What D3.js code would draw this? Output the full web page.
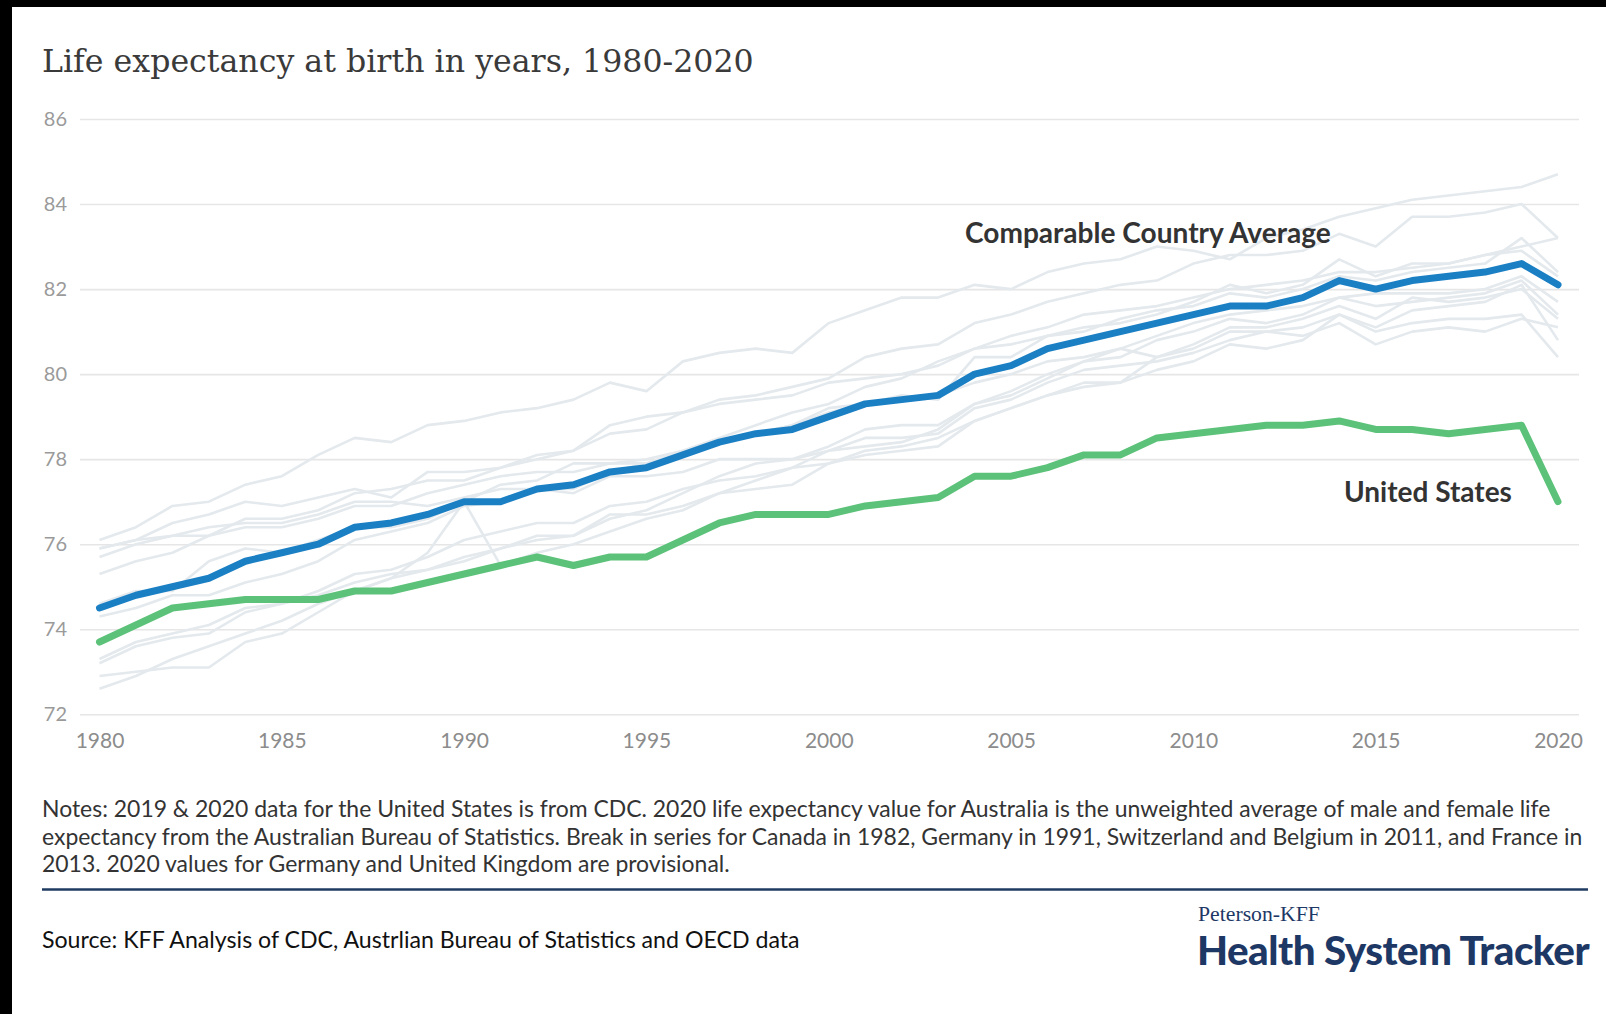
<!DOCTYPE html>
<meta charset="utf-8">
<style>
  body { margin: 0; background: #fff; }
  text { font-family: Lato, "Open Sans", sans-serif; }
</style>

<!-- Load d3.js -->
<script src="https://d3js.org/d3.v7.min.js" charset="utf-8"></script>

<div id="viz"></div>

<script>
// years on the x axis
var years = [1980, 1981, 1982, 1983, 1984, 1985, 1986, 1987, 1988, 1989,
             1990, 1991, 1992, 1993, 1994, 1995, 1996, 1997, 1998, 1999,
             2000, 2001, 2002, 2003, 2004, 2005, 2006, 2007, 2008, 2009,
             2010, 2011, 2012, 2013, 2014, 2015, 2016, 2017, 2018, 2019, 2020];

// highlighted series
var comparableAvg = [74.5, 74.8, 75.0, 75.2, 75.6, 75.8, 76.0, 76.4, 76.5, 76.7,
                     77.0, 77.0, 77.3, 77.4, 77.7, 77.8, 78.1, 78.4, 78.6, 78.7,
                     79.0, 79.3, 79.4, 79.5, 80.0, 80.2, 80.6, 80.8, 81.0, 81.2,
                     81.4, 81.6, 81.6, 81.8, 82.2, 82.0, 82.2, 82.3, 82.4, 82.6, 82.1];
var unitedStates = [73.7, 74.1, 74.5, 74.6, 74.7, 74.7, 74.7, 74.9, 74.9, 75.1,
                    75.3, 75.5, 75.7, 75.5, 75.7, 75.7, 76.1, 76.5, 76.7, 76.7,
                    76.7, 76.9, 77.0, 77.1, 77.6, 77.6, 77.8, 78.1, 78.1, 78.5,
                    78.6, 78.7, 78.8, 78.8, 78.9, 78.7, 78.7, 78.6, 78.7, 78.8, 77.0];

// comparable countries (light grey background lines)
var japan = [76.1, 76.4, 76.9, 77.0, 77.4, 77.6, 78.1, 78.5, 78.4, 78.8,
             78.9, 79.1, 79.2, 79.4, 79.8, 79.6, 80.3, 80.5, 80.6, 80.5,
             81.2, 81.5, 81.8, 81.8, 82.1, 82.0, 82.4, 82.6, 82.7, 83.0,
             82.9, 82.7, 83.2, 83.4, 83.7, 83.9, 84.1, 84.2, 84.3, 84.4, 84.7];
var switzerland = [75.7, 76.0, 76.2, 76.2, 76.6, 76.6, 76.8, 77.2, 77.3, 77.5,
                   77.5, 77.8, 78.0, 78.2, 78.6, 78.7, 79.1, 79.4, 79.5, 79.7,
                   79.9, 80.4, 80.6, 80.7, 81.2, 81.4, 81.7, 81.9, 82.1, 82.2,
                   82.6, 82.8, 82.8, 82.9, 83.3, 83.0, 83.7, 83.7, 83.8, 84.0, 83.2];
var sweden = [75.9, 76.1, 76.5, 76.7, 77.0, 76.9, 77.1, 77.3, 77.1, 77.7,
              77.7, 77.8, 78.1, 78.2, 78.8, 79.0, 79.1, 79.3, 79.4, 79.5,
              79.8, 79.9, 80.0, 80.2, 80.6, 80.7, 80.9, 81.0, 81.3, 81.5,
              81.6, 81.9, 81.8, 82.0, 82.3, 82.2, 82.4, 82.5, 82.6, 83.2, 82.4];
var australia = [74.6, 74.9, 74.9, 75.6, 75.9, 75.8, 76.1, 76.4, 76.4, 76.6,
                 77.0, 77.4, 77.5, 77.9, 77.9, 77.9, 78.2, 78.5, 78.8, 79.1,
                 79.3, 79.7, 79.9, 80.3, 80.6, 80.9, 81.1, 81.4, 81.5, 81.6,
                 81.8, 82.0, 82.1, 82.2, 82.4, 82.4, 82.5, 82.6, 82.8, 83.0, 83.2];
var canada = [75.3, 75.6, 75.8, 76.2, 76.4, 76.4, 76.6, 76.9, 76.9, 77.2,
              77.4, 77.6, 77.7, 77.7, 77.9, 78.0, 78.2, 78.4, 78.6, 78.8,
              79.1, 79.3, 79.4, 79.5, 79.8, 80.0, 80.3, 80.4, 80.6, 80.9,
              81.2, 81.4, 81.5, 81.6, 81.8, 81.9, 81.9, 81.9, 82.0, 82.3, 81.7];
var netherlands = [75.9, 76.1, 76.2, 76.4, 76.5, 76.5, 76.7, 77.0, 77.0, 76.9,
                   77.1, 77.3, 77.3, 77.2, 77.6, 77.6, 77.7, 78.0, 78.0, 78.0,
                   78.2, 78.3, 78.4, 78.7, 79.3, 79.6, 80.0, 80.3, 80.4, 80.8,
                   81.0, 81.3, 81.2, 81.4, 81.8, 81.6, 81.7, 81.8, 81.9, 82.2, 81.4];
var france = [74.3, 74.5, 74.8, 74.8, 75.1, 75.3, 75.6, 76.1, 76.3, 76.5,
              76.9, 77.0, 77.3, 77.3, 77.7, 77.9, 78.1, 78.4, 78.6, 78.8,
              79.2, 79.3, 79.5, 79.4, 80.4, 80.4, 80.9, 81.1, 81.2, 81.4,
              81.7, 82.1, 81.9, 82.1, 82.7, 82.3, 82.6, 82.6, 82.8, 82.9, 82.3];
var austria = [72.6, 72.9, 73.3, 73.6, 73.9, 74.2, 74.6, 74.9, 75.2, 75.4,
               75.6, 75.9, 76.1, 76.2, 76.6, 76.8, 77.2, 77.6, 77.9, 78.0,
               78.3, 78.7, 78.8, 78.8, 79.3, 79.5, 79.9, 80.3, 80.6, 80.4,
               80.7, 81.1, 81.1, 81.3, 81.6, 81.3, 81.8, 81.7, 81.8, 82.0, 81.3];
var germany = [72.9, 73.0, 73.1, 73.1, 73.7, 73.9, 74.4, 74.9, 75.2, 75.8,
               77.0, 75.5, 75.8, 76.0, 76.3, 76.6, 76.8, 77.2, 77.5, 77.8,
               78.2, 78.5, 78.5, 78.6, 79.2, 79.4, 79.8, 80.1, 80.2, 80.3,
               80.5, 80.8, 81.0, 80.9, 81.2, 80.7, 81.0, 81.1, 81.0, 81.3, 81.1];
var belgium = [73.3, 73.7, 73.9, 74.1, 74.5, 74.6, 74.9, 75.3, 75.4, 75.7,
               76.1, 76.3, 76.5, 76.5, 76.9, 77.0, 77.3, 77.5, 77.6, 77.8,
               77.9, 78.1, 78.2, 78.3, 78.9, 79.2, 79.5, 79.8, 79.8, 80.1,
               80.3, 80.7, 80.6, 80.8, 81.4, 81.1, 81.5, 81.6, 81.7, 82.1, 80.8];
var unitedKingdom = [73.2, 73.6, 73.8, 73.9, 74.4, 74.6, 74.8, 75.1, 75.3, 75.4,
                     75.7, 75.9, 76.2, 76.2, 76.7, 76.7, 76.9, 77.2, 77.3, 77.4,
                     77.9, 78.2, 78.3, 78.5, 78.9, 79.2, 79.5, 79.7, 79.8, 80.4,
                     80.6, 81.0, 81.0, 81.1, 81.4, 81.0, 81.2, 81.3, 81.3, 81.4, 80.4];

var countries = [japan, switzerland, sweden, australia, canada, netherlands,
                 france, austria, germany, belgium, unitedKingdom];

var yTicks = [72, 74, 76, 78, 80, 82, 84, 86];
var xTicks = [1980, 1985, 1990, 1995, 2000, 2005, 2010, 2015, 2020];

var notesLines = [
  "Notes: 2019 & 2020 data for the United States is from CDC. 2020 life expectancy value for Australia is the unweighted average of male and female life",
  "expectancy from the Australian Bureau of Statistics. Break in series for Canada in 1982, Germany in 1991, Switzerland and Belgium in 2011, and France in",
  "2013. 2020 values for Germany and United Kingdom are provisional."
];

// scale a text so that it spans the wanted width
function fitWidth(sel, w) {
  var cur = sel.node().getComputedTextLength();
  var fs = parseFloat(sel.attr("font-size"));
  sel.attr("font-size", fs * w / cur);
  return sel;
}

var W = 1606, H = 1014;

var svg = d3.select("#viz")
  .append("svg")
    .attr("width", W)
    .attr("height", H);

svg.append("rect").attr("width", W).attr("height", H).attr("fill", "#fff");
// black frame strips of the screenshot
svg.append("rect").attr("x", 0).attr("y", 0).attr("width", W).attr("height", 7).attr("fill", "#000");
svg.append("rect").attr("x", 0).attr("y", 0).attr("width", 12).attr("height", H).attr("fill", "#000");

// title
var title = svg.append("text")
  .attr("x", 42).attr("y", 72)
  .attr("font-size", 34)
  .style("font-family", "'DejaVu Serif', serif")
  .attr("fill", "#3a3a3a")
  .text("Life expectancy at birth in years, 1980-2020");
fitWidth(title, 712);

// scales
var x = d3.scaleLinear().domain([1980, 2020]).range([99.5, 1558]);
var y = d3.scaleLinear().domain([72, 86]).range([714.3, 119]);

// gridlines + y labels
var yAxis = svg.append("g")
  .attr("transform", "translate(80,0)")
  .call(d3.axisLeft(y).tickValues(yTicks).tickSize(-1499).tickPadding(13).tickFormat(d3.format("d")));
yAxis.select(".domain").remove();
yAxis.selectAll(".tick line").attr("stroke", "#e6e6e6").attr("stroke-width", 1.6);
yAxis.selectAll(".tick text")
  .attr("fill", "#9a9a9a")
  .style("font-family", "Lato, sans-serif")
  .style("font-size", "20px");

// x labels
var xAxis = svg.append("g")
  .attr("transform", "translate(0,714.3)")
  .call(d3.axisBottom(x).tickValues(xTicks).tickSize(0).tickPadding(19).tickFormat(d3.format("d")));
xAxis.select(".domain").remove();
xAxis.selectAll(".tick text")
  .attr("fill", "#8c8c8c")
  .style("font-family", "Lato, sans-serif")
  .style("font-size", "21px");

var line = d3.line()
  .x(function(d, i) { return x(years[i]); })
  .y(function(d) { return y(d); });

svg.append("g").selectAll("path")
  .data(countries)
  .enter()
  .append("path")
    .attr("d", line)
    .attr("fill", "none")
    .attr("stroke", "#e4e9ed")
    .attr("stroke-width", 2.6)
    .attr("stroke-linejoin", "round");

svg.append("path")
  .datum(unitedStates)
  .attr("d", line)
  .attr("fill", "none")
  .attr("stroke", "#5cc279")
  .attr("stroke-width", 7)
  .attr("stroke-linejoin", "round")
  .attr("stroke-linecap", "round");

svg.append("path")
  .datum(comparableAvg)
  .attr("d", line)
  .attr("fill", "none")
  .attr("stroke", "#1b7fc4")
  .attr("stroke-width", 7)
  .attr("stroke-linejoin", "round")
  .attr("stroke-linecap", "round");

// series labels
var lab1 = svg.append("text")
  .attr("x", 965).attr("y", 243)
  .attr("font-size", 25).attr("font-weight", 700)
  .attr("fill", "#333")
  .text("Comparable Country Average");
fitWidth(lab1, 366);

var lab2 = svg.append("text")
  .attr("x", 1344).attr("y", 502)
  .attr("font-size", 25).attr("font-weight", 700)
  .attr("fill", "#333")
  .text("United States");
fitWidth(lab2, 168);

// notes
var notes = svg.append("g");
notes.selectAll("text")
  .data(notesLines)
  .enter()
  .append("text")
    .attr("x", 42)
    .attr("y", function(d, i) { return 817 + i * 27.5; })
    .attr("font-size", 19.5)
    .attr("fill", "#333")
    .text(function(d) { return d; });
var n2 = notes.selectAll("text").filter(function(d, i) { return i == 1; });
var fsN = parseFloat(n2.attr("font-size")) * 1541 / n2.node().getComputedTextLength();
notes.selectAll("text").attr("font-size", fsN);

svg.append("line")
  .attr("x1", 42).attr("x2", 1588)
  .attr("y1", 889.5).attr("y2", 889.5)
  .attr("stroke", "#1f3b60").attr("stroke-width", 2.5);

var src = svg.append("text")
  .attr("x", 42).attr("y", 948)
  .attr("font-size", 20)
  .attr("fill", "#111")
  .text("Source: KFF Analysis of CDC, Austrlian Bureau of Statistics and OECD data");
fitWidth(src, 758);

// logo
var pk = svg.append("text")
  .attr("x", 1198).attr("y", 921)
  .attr("font-size", 17)
  .style("font-family", "'Liberation Serif', serif")
  .attr("fill", "#1e3866")
  .text("Peterson-KFF");
fitWidth(pk, 122);

var hst = svg.append("text")
  .attr("x", 1197).attr("y", 965)
  .attr("font-size", 36).attr("font-weight", 900)
  .attr("fill", "#1e3866")
  .style("letter-spacing", "-0.5px")
  .text("Health System Tracker");
fitWidth(hst, 391);
</script>
